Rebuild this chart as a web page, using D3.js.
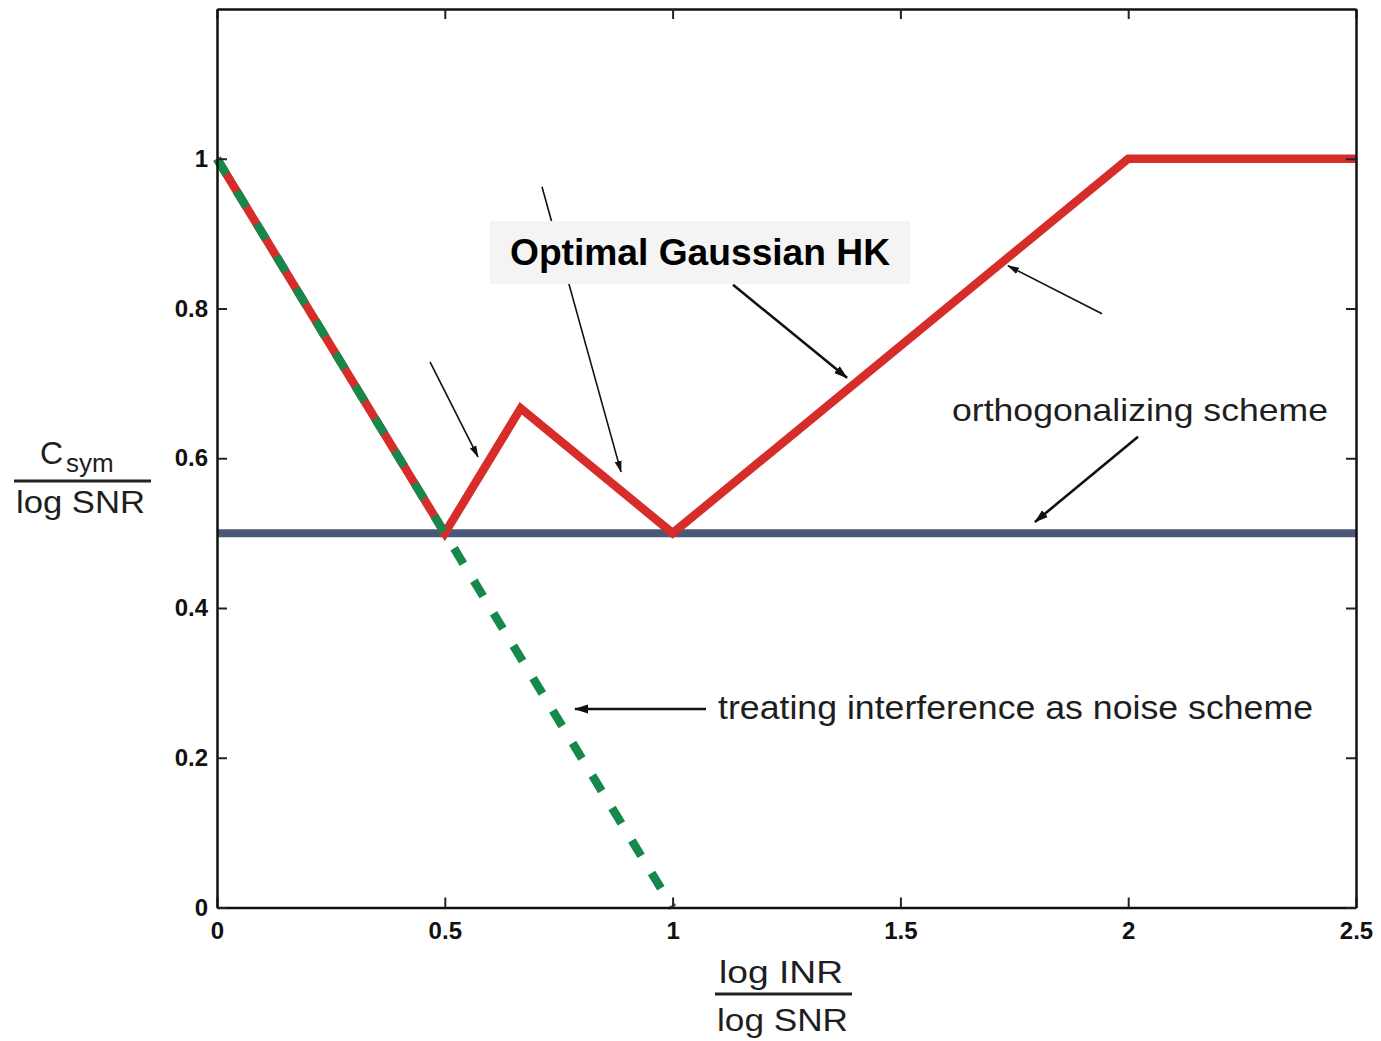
<!DOCTYPE html>
<html>
<head>
<meta charset="utf-8">
<script src="https://cdn.jsdelivr.net/npm/d3@7"></script>
<style>
  html, body { margin: 0; padding: 0; background: #fff; }
  svg { display: block; }
  .tick text { font-family: "Liberation Sans", Arial, sans-serif; font-weight: bold; font-size: 24px; fill: #111; }
  .lbl { font-family: "Liberation Sans Narrow", "Liberation Sans", Arial, sans-serif; fill: #1e1e1e; }
</style>
</head>
<body>
<svg id="chart" width="1381" height="1041"></svg>
<script>
// ---- data ----
const xTicks = [0, 0.5, 1, 1.5, 2, 2.5];
const yTicks = [0, 0.2, 0.4, 0.6, 0.8, 1];
const xTickLabels = ["0", "0.5", "1", "1.5", "2", "2.5"];
const yTickLabels = ["0", "0.2", "0.4", "0.6", "0.8", "1"];

const optimalX = [0, 0.5, 2/3, 1, 2, 2.5];
const optimalY = [1, 0.5, 2/3, 0.5, 1, 1];

const orthoX = [0, 2.5];
const orthoY = [0.5, 0.5];

const tinX = [0, 1];
const tinY = [1, 0];

// ---- layout ----
const svg = d3.select("#chart");
const pL = 217, pR = 1356, pT = 9, pB = 907.5;
const x = d3.scaleLinear().domain([0, 2.5]).range([pL, pR]);
const y = d3.scaleLinear().domain([0, 1.2]).range([pB, pT]);

const line = d3.line().x(d => x(d[0])).y(d => y(d[1]));

// arrow markers
const defs = svg.append("defs");
function marker(id, w, h) {
  defs.append("marker")
    .attr("id", id).attr("markerUnits", "userSpaceOnUse")
    .attr("viewBox", `0 ${-h/2} ${w} ${h}`).attr("refX", w - 1).attr("refY", 0)
    .attr("markerWidth", w).attr("markerHeight", h).attr("orient", "auto")
    .append("path").attr("d", `M0,${-h/2 + 1}L${w},0L0,${h/2 - 1}Z`).attr("fill", "#111");
}
marker("ahs", 12, 9);
marker("ahl", 14, 11);

// series
svg.append("path").datum(d3.zip(orthoX, orthoY)).attr("d", line)
  .attr("fill", "none").attr("stroke", "#4b5878").attr("stroke-width", 8);

svg.append("path").datum(d3.zip(optimalX, optimalY)).attr("d", line)
  .attr("fill", "none").attr("stroke", "#d62d2a").attr("stroke-width", 8.5)
  .attr("stroke-linejoin", "miter");

svg.append("path").datum(d3.zip(tinX, tinY)).attr("d", line)
  .attr("fill", "none").attr("stroke", "#16884c").attr("stroke-width", 8.5)
  .attr("stroke-dasharray", "18,20");

// axes (inward ticks on all four sides)
function styleAxis(g) {
  g.select(".domain").attr("stroke", "#111").attr("stroke-width", 2.5);
  g.selectAll(".tick line").attr("stroke", "#222").attr("stroke-width", 2);
}
svg.append("g").attr("transform", `translate(0,${pB})`)
  .call(d3.axisBottom(x).tickValues(xTicks).tickSizeInner(-10).tickSizeOuter(0).tickPadding(14)
    .tickFormat((d, i) => xTickLabels[i]))
  .call(styleAxis);
svg.append("g").attr("transform", `translate(0,${pT})`)
  .call(d3.axisTop(x).tickValues(xTicks).tickSizeInner(-10).tickSizeOuter(0).tickFormat(""))
  .call(styleAxis);
svg.append("g").attr("transform", `translate(${pL},0)`)
  .call(d3.axisLeft(y).tickValues(yTicks).tickSizeInner(-10).tickSizeOuter(0).tickPadding(9)
    .tickFormat((d, i) => yTickLabels[i]))
  .call(styleAxis);
svg.append("g").attr("transform", `translate(${pR},0)`)
  .call(d3.axisRight(y).tickValues(yTicks).tickSizeInner(-10).tickSizeOuter(0).tickFormat(""))
  .call(styleAxis);

// annotation arrows (data coordinates)
const arrows = [
  {x1: 0.4675, y1: 0.7288, x2: 0.5729, y2: 0.6019, w: 1.6, m: "ahs"},
  {x1: 0.7133, y1: 0.9626, x2: 0.8868, y2: 0.5818, w: 1.6, m: "ahs"},
  {x1: 1.1326, y1: 0.8317, x2: 1.3828, y2: 0.7074, w: 2.6, m: "ahl"},
  {x1: 1.9425, y1: 0.7929, x2: 1.7362, y2: 0.8570, w: 1.6, m: "ahs"},
  {x1: 2.0215, y1: 0.6286, x2: 1.7954, y2: 0.5150, w: 2.6, m: "ahl"},
  {x1: 1.0733, y1: 0.2652, x2: 0.7858, y2: 0.2652, w: 2.6, m: "ahl"}
];
svg.append("g").selectAll("line").data(arrows).join("line")
  .attr("x1", d => x(d.x1)).attr("y1", d => y(d.y1))
  .attr("x2", d => x(d.x2)).attr("y2", d => y(d.y2))
  .attr("stroke", "#111").attr("stroke-width", d => d.w)
  .attr("marker-end", d => `url(#${d.m})`);

// Optimal Gaussian HK label box
svg.append("rect").attr("x", 490).attr("y", 221).attr("width", 420).attr("height", 63)
  .attr("fill", "#f4f4f4");
svg.append("text").attr("x", 700).attr("y", 265).attr("text-anchor", "middle")
  .attr("font-family", "'Liberation Sans', Arial, sans-serif").attr("font-weight", "bold")
  .attr("font-size", 37).attr("fill", "#000")
  .attr("textLength", 380).attr("lengthAdjust", "spacingAndGlyphs")
  .text("Optimal Gaussian HK");

svg.append("text").attr("class", "lbl").attr("x", 952).attr("y", 421)
  .attr("font-size", 32).attr("textLength", 376).attr("lengthAdjust", "spacingAndGlyphs")
  .text("orthogonalizing scheme");

svg.append("text").attr("class", "lbl").attr("x", 718).attr("y", 719)
  .attr("font-size", 33).attr("textLength", 595).attr("lengthAdjust", "spacingAndGlyphs")
  .text("treating interference as noise scheme");

// y-axis label (fraction)
const yl = svg.append("g").attr("class", "lbl");
const ct = yl.append("text").attr("x", 40).attr("y", 464).attr("font-size", 32)
  .attr("font-family", "'Liberation Sans', Arial, sans-serif");
ct.append("tspan").text("C");
ct.append("tspan").attr("font-size", 26).attr("dx", 3).attr("dy", 8).text("sym");
yl.append("line").attr("x1", 14).attr("x2", 151).attr("y1", 481).attr("y2", 481)
  .attr("stroke", "#222").attr("stroke-width", 3);
yl.append("text").attr("x", 16).attr("y", 513).attr("font-size", 32)
  .attr("textLength", 129).attr("lengthAdjust", "spacingAndGlyphs").text("log SNR");

// x-axis label (fraction)
const xl = svg.append("g").attr("class", "lbl");
xl.append("text").attr("x", 719).attr("y", 983).attr("font-size", 32)
  .attr("textLength", 124).attr("lengthAdjust", "spacingAndGlyphs").text("log INR");
xl.append("line").attr("x1", 715).attr("x2", 852).attr("y1", 994).attr("y2", 994)
  .attr("stroke", "#222").attr("stroke-width", 3);
xl.append("text").attr("x", 717).attr("y", 1031).attr("font-size", 32)
  .attr("textLength", 131).attr("lengthAdjust", "spacingAndGlyphs").text("log SNR");
</script>
</body>
</html>
